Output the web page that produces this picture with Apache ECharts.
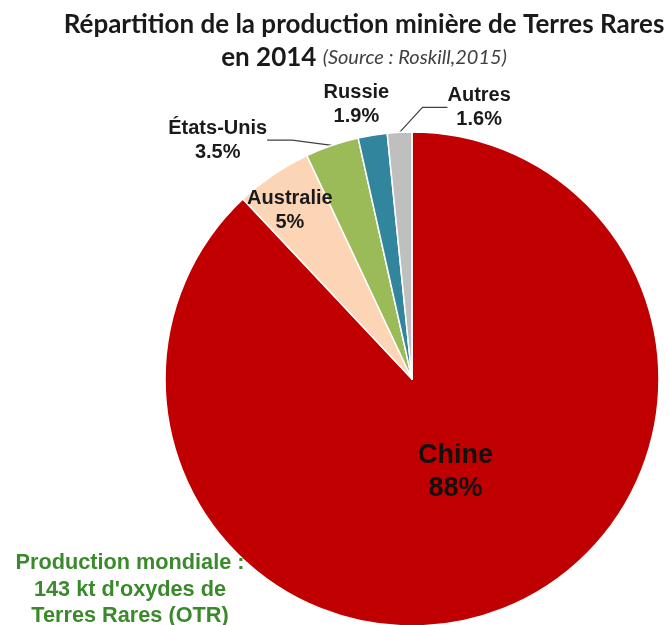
<!DOCTYPE html>
<html>
<head>
<meta charset="utf-8">
<script src="https://cdn.jsdelivr.net/npm/echarts@6/dist/echarts.min.js"></script>
<style>
  html, body { margin: 0; padding: 0; background: #fff; }
  #chart { width: 670px; height: 625px; }
</style>
</head>
<body>
<div id="chart"></div>
<script>
// données (part en %)
var pays = ['Chine', 'Australie', 'États-Unis', 'Russie', 'Autres'];
var parts = [88, 5, 3.5, 1.9, 1.6];
var couleurs = ['#C00000', '#FBD5B5', '#9BBB59', '#31859C', '#BFBFBF'];
var libelles = ['88%', '5%', '3.5%', '1.9%', '1.6%'];

// décalages des étiquettes par rapport à leur place par défaut
var decalages = [[-3, -25], [-51, -64], [-30, 9], [49, -16], [142, -10]];

var chart = echarts.init(document.getElementById('chart'), null, { renderer: 'canvas' });

var data = [];
for (var i = 0; i < pays.length; i++) {
  var item = {
    name: pays[i],
    value: parts[i],
    itemStyle: { color: couleurs[i] }
  };
  if (i < 2) {
    item.label = { position: 'inside' };
    item.labelLine = { show: false };
  }
  if (i === 0) {
    item.label.fontSize = 27;
    item.label.lineHeight = 33;
    item.label.color = '#141010';
  }
  if (i === 3) {
    item.labelLine = { show: false };
  }
  data.push(item);
}

var option = {
  backgroundColor: '#fff',
  animation: false,
  title: [{
    text: 'Répartition de la production minière de Terres Rares\n{b|en 2014} {i|(Source : Roskill,2015)}',
    left: 359,
    top: 3,
    textAlign: 'center',
    textStyle: {
      fontFamily: 'Lato',
      fontWeight: 'bold',
      fontSize: 26,
      lineHeight: 33,
      color: '#1a1a1a',
      rich: {
        b: { fontFamily: 'Lato', fontWeight: 'bold', fontSize: 26, color: '#1a1a1a' },
        i: { fontFamily: 'Lato', fontStyle: 'italic', fontWeight: 'normal', fontSize: 20, color: '#404040' }
      }
    }
  }, {
    text: 'Production mondiale :\n143 kt d\'oxydes de\nTerres Rares (OTR)',
    left: 125,
    top: 545,
    textAlign: 'center',
    textStyle: {
      fontFamily: 'Liberation Sans',
      fontWeight: 'bold',
      fontSize: 21.7,
      lineHeight: 26.5,
      color: '#3A8A2C'
    }
  }],
  series: [{
    type: 'pie',
    center: [412, 379],
    radius: 247,
    startAngle: 90,
    clockwise: true,
    avoidLabelOverlap: false,
    itemStyle: { borderColor: '#fff', borderWidth: 1.5 },
    label: {
      show: true,
      formatter: function (p) { return p.name + '\n' + libelles[p.dataIndex]; },
      fontFamily: 'Liberation Sans',
      fontWeight: 'bold',
      fontSize: 20,
      lineHeight: 24,
      color: '#1a1a1a',
      align: 'center'
    },
    labelLine: {
      show: true,
      length: 15,
      length2: 25,
      lineStyle: { color: '#404040', width: 1.2 }
    },
    labelLayout: function (p) {
      var d = decalages[p.dataIndex];
      var r = p.labelRect;
      return {
        x: r.x + r.width / 2 + d[0],
        y: r.y + r.height / 2 + d[1],
        align: 'center',
        verticalAlign: 'middle'
      };
    },
    data: data
  }]
};

chart.setOption(option);
</script>
</body>
</html>
